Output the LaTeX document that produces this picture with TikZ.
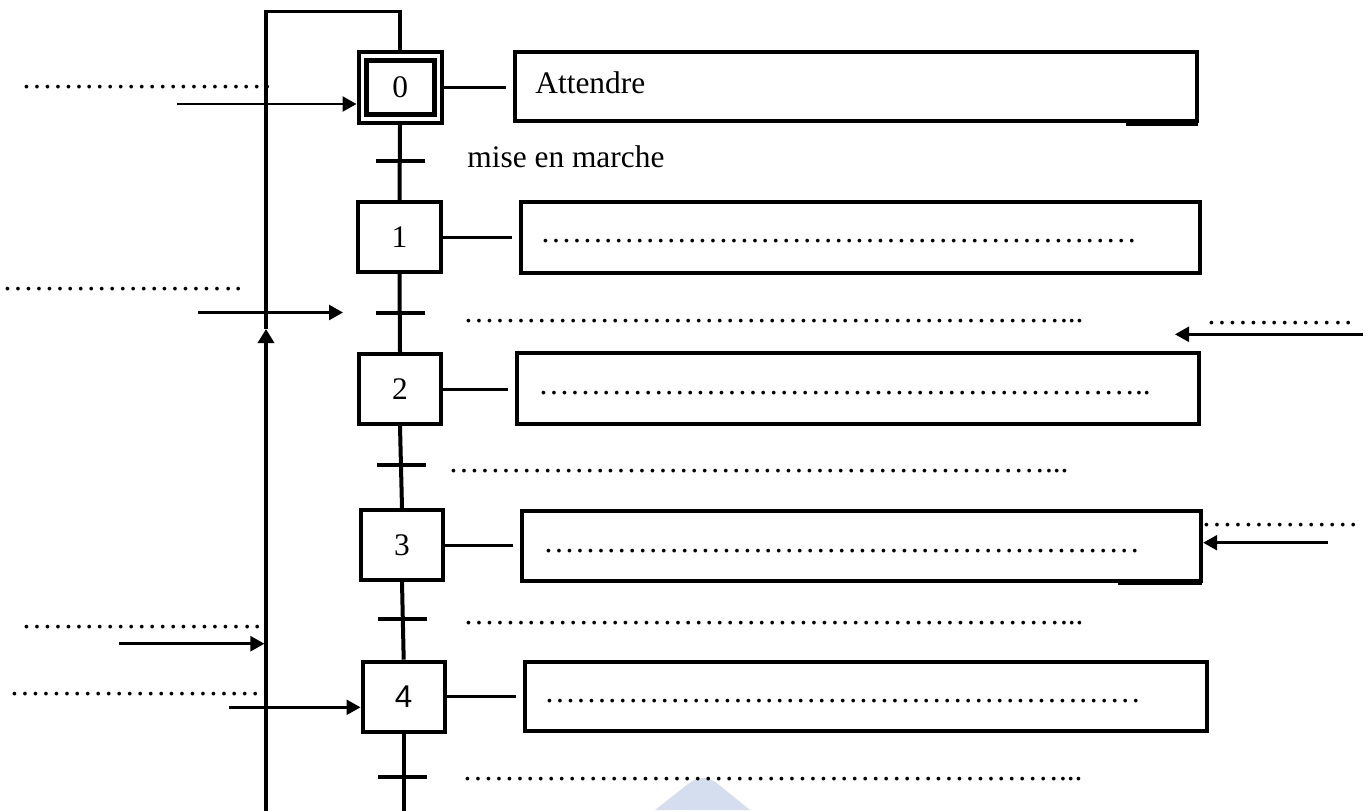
\documentclass[tikz,border=0pt]{standalone}
\usepackage{fontspec}
\setmainfont{Liberation Serif}
\newfontfamily\sansnum{Liberation Sans}
\usetikzlibrary{arrows.meta,calc}
\ExplSyntaxOn
\NewDocumentCommand{\elli}{m}{\prg_replicate:nn{#1}{…}}
\NewDocumentCommand{\sdots}{m}{\prg_replicate:nn{#1}{\kern1.1pt.}}
\ExplSyntaxOff
\definecolor{wmblue}{HTML}{D4DEEE}
\tikzset{
  stepbox/.style={draw, line width=2pt, minimum width=41.2pt, minimum height=35pt, inner sep=0pt},
  actbox/.style={draw, line width=1.9pt, inner sep=0pt},
  lnk/.style={line width=1.5pt, shorten >=3.5pt},
  flow/.style={line width=2pt},
  loopline/.style={line width=1.7pt},
  tbar/.style={line width=2pt},
  arr/.style={line width=1.25pt, -{Triangle[length=7pt,width=7.5pt]}},
  lbl/.style={anchor=base west, inner sep=0pt},
}
\begin{document}
\begin{tikzpicture}[x=0.5pt,y=-0.5pt, font=\fontsize{15.7}{18}\selectfont]
\useasboundingbox (0,0) rectangle (1369,810);

% watermark fragment
\fill[wmblue] (655,810) -- (688,784) .. controls (697,776) and (709,776) .. (718,784) -- (750,810) -- cycle;

% steps
\node[draw, line width=2pt, minimum width=41.5pt, minimum height=35.5pt, inner sep=0pt] (s0) at (400,87.2) {};
\node[draw, line width=2.5pt, minimum width=34.3pt, minimum height=27.2pt, inner sep=0pt] (s0i) at (400.3,87.2) {0};
\node[stepbox] (s1) at (399.5,237) {1};
\node[stepbox] (s2) at (400,389) {2};
\node[stepbox] (s3) at (402,545) {3};
\node[stepbox] (s4) at (403.7,696.7) {\sansnum 4};

% action boxes
\node[actbox, minimum width=341pt, minimum height=34.5pt] (a0) at (856,86.2) {};
\node[actbox, minimum width=339.5pt, minimum height=35.3pt] (a1) at (860.5,237.3) {};
\node[actbox, minimum width=341pt, minimum height=35.5pt] (a2) at (858,388.5) {};
\node[actbox, minimum width=339.6pt, minimum height=35pt] (a3) at (861.7,546) {};
\node[actbox, minimum width=341pt, minimum height=34.5pt] (a4) at (866,696.5) {};
\draw[line width=2pt] (1126,123.5) -- (1198,123.5);
\draw[line width=2pt] (1118,583) -- (1202,583);

% links step -> action
\draw[lnk] (s0.east) -- (s0.east -| a0.west);
\draw[lnk] (s1.east) -- (s1.east -| a1.west);
\draw[lnk] (s2.east) -- (s2.east -| a2.west);
\draw[lnk] (s3.east) -- (s3.east -| a3.west);
\draw[lnk] (s4.east) -- (s4.east -| a4.west);

% transitions
\coordinate (t1) at (400.5,161.3);
\coordinate (t2) at (400.5,312.7);
\coordinate (t3) at (401.7,464.7);
\coordinate (t4) at (402.5,618.5);
\coordinate (t5) at (402.5,776.7);
\coordinate (bot) at (403.7,812);
\draw[flow] (s0.south) -- (s1.north);
\draw[flow] (s1.south) -- (s2.north);
\draw[flow] (s2.south) -- (s3.north);
\draw[flow] (s3.south) -- (s4.north);
\draw[flow] (s4.south) -- (bot);
\foreach \t in {t1,t2,t3,t4,t5}
  \draw[tbar] (\t) +(-24.5,0) -- +(24.5,0);

% loop line on the left
\coordinate (lb) at (266,812);
\coordinate (la) at (266,329);
\coordinate (lt) at (266,11.7);
\draw[loopline, -{Triangle[length=7pt,width=8pt]}] (lb) -- (la);
\draw[loopline] (la) -- (lt) -| (s0.north);

% input arrows
\coordinate (c0) at (177,104);
\draw[arr] (c0) -- (c0 -| s0.west);
\coordinate (c2a) at (198,312.5);
\coordinate (c2b) at (343,312.5);
\draw[arr] (c2a) -- (c2b);
\coordinate (r2a) at (1363,334.3);
\coordinate (r2b) at (1175,334.3);
\draw[arr] (r2a) -- (r2b);
\coordinate (r3a) at (1328,542.7);
\draw[arr] (r3a) -- (r3a -| a3.east);
\coordinate (c3a) at (119,643.7);
\draw[arr, shorten >=0.8pt] (c3a) -- (c3a -| lb);
\coordinate (c4a) at (229,707.3);
\draw[arr] (c4a) -- (c4a -| s4.west);

% texts
\node[lbl] (tx0) at (535,93) {Attendre};
\node[lbl] (tx1) at (467,167) {mise en marche};
\node[lbl] (d1) at (21,88) {\elli{8}};
\node[lbl] (d2) at (2,290) {\elli{7}\sdots{2}};
\node[lbl] (d3) at (463,322) {\elli{19}...};
\node[lbl] (d4) at (1206,324) {\elli{4}\sdots{2}};
\node[lbl] (d5) at (540,242) {\elli{19}};
\node[lbl] (d6) at (538,394) {\elli{19}..};
\node[lbl] (d7) at (448,472) {\elli{19}...};
\node[lbl] (d8) at (543,552) {\elli{19}};
\node[lbl] (d9) at (1201,526) {\elli{5}};
\node[lbl] (d10) at (463,624) {\elli{19}...};
\node[lbl] (d11) at (21,628) {\elli{7}\sdots{2}};
\node[lbl] (d12) at (9,695) {\elli{8}};
\node[lbl] (d13) at (544,702) {\elli{19}};
\node[lbl] (d14) at (462,780) {\elli{19}...};
\end{tikzpicture}
\end{document}
